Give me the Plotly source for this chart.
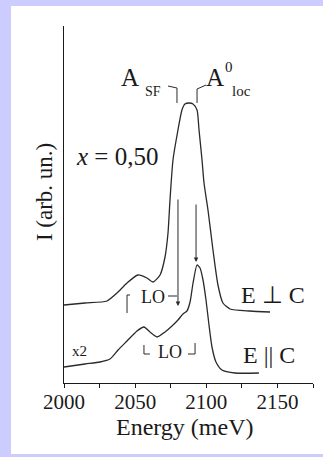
import plotly.graph_objects as go

# E ⊥ C spectrum (energy meV, intensity arb. units)
energy_perp = [2000.0, 2014.8, 2030.2, 2037.2, 2044.3, 2052.0, 2058.3, 2062.6, 2067.5, 2071.0,
               2073.1, 2074.5, 2076.6, 2080.1, 2082.9, 2085.0, 2087.9, 2090.7, 2093.5, 2094.9,
               2097.0, 2098.4, 2101.2, 2104.7, 2108.2, 2111.7, 2116.7, 2130.7, 2144.8]
int_perp = [78, 80, 82, 90, 100, 108, 105, 101, 108, 126,
            150, 183, 223, 253, 273, 279, 280, 279, 273, 253,
            223, 200, 173, 133, 98, 80, 74, 72, 71]

# E || C spectrum (x2)
energy_par = [2000.0, 2014.8, 2025.3, 2032.3, 2038.0, 2044.3, 2051.3, 2056.2, 2060.4, 2065.4,
              2071.0, 2075.9, 2080.1, 2083.6, 2086.4, 2088.6, 2090.7, 2093.5, 2095.6, 2097.7,
              2099.8, 2101.9, 2104.0, 2106.8, 2111.0, 2120.2, 2137.0]
int_par = [16, 19, 21, 24, 33, 42, 52, 56, 51, 46,
           51, 57, 63, 69, 72, 81, 100, 118, 115, 103,
           83, 58, 36, 21, 13, 10, 10]

x_major = [2000, 2050, 2100, 2150]
x_labels = ["2000", "2050", "2100", "2150"]

FONT = "Liberation Serif"
INK = "#1a1a1a"

fig = go.Figure()
fig.add_trace(go.Scatter(x=energy_perp, y=int_perp, mode="lines",
                         line=dict(color="#2a2a2a", width=1.3, shape="spline", smoothing=0.6),
                         showlegend=False, hoverinfo="skip"))
fig.add_trace(go.Scatter(x=energy_par, y=int_par, mode="lines",
                         line=dict(color="#2a2a2a", width=1.3, shape="spline", smoothing=0.6),
                         showlegend=False, hoverinfo="skip"))
# invisible trace to anchor the tick-mark axis
fig.add_trace(go.Scatter(x=[2000, 2175], y=[0, 0], mode="lines", xaxis="x2",
                         line=dict(width=0), showlegend=False, hoverinfo="skip"))

def txt(x, y, t, size, xanchor="center", yanchor="middle", xref="x", yref="y", angle=0):
    fig.add_annotation(x=x, y=y, xref=xref, yref=yref, text=t, showarrow=False,
                       font=dict(family=FONT, size=size, color=INK), textangle=angle,
                       xanchor=xanchor, yanchor=yanchor, borderpad=0)

txt(2007.7, 227, "<i>x</i> = 0,50", 25, xanchor="left")
txt(2046.4, 306, "A", 25)
txt(2062.5, 292, "SF", 14)
txt(2105.8, 306, "A", 25)
txt(2116.0, 316, "0", 15)
txt(2124.9, 292, "loc", 15)
txt(2062.2, 86, "LO", 18)
txt(2074.5, 31, "LO", 18)
txt(2147.2, 88, "E ⊥ C", 24)
txt(2144.1, 28, "E || C", 24)
txt(2011.2, 32, "x2", 15)

# arrows
for xa, ytail, yhead in [(2080.1, 185, 77), (2092.8, 180, 121)]:
    fig.add_annotation(x=xa, y=yhead, ax=xa, ay=ytail, xref="x", yref="y",
                       axref="x", ayref="y", text="", showarrow=True,
                       arrowhead=2, arrowsize=0.9, arrowwidth=1, arrowcolor="#2a2a2a")

# brackets
brackets = [
    "M 2073.1,297 L 2079.4,295 L 2079.4,280",
    "M 2093.5,280 L 2093.5,294 L 2099.8,298",
    "M 2044.3,70 L 2044.3,88 L 2046.4,88",
    "M 2073.1,87 L 2079.4,87",
    "M 2056.2,38 L 2056.2,29 L 2060.4,29",
    "M 2087.1,29 L 2092.1,29 L 2092.1,40",
]
for p in brackets:
    fig.add_shape(type="path", path=p, xref="x", yref="y",
                  line=dict(color="#2a2a2a", width=1))

# white panel on lavender background
fig.add_shape(type="rect", xref="paper", yref="paper",
              x0=-0.2129, x1=1.05, y0=-0.1989, y1=1.056,
              fillcolor="white", line=dict(width=0), layer="below")

# axis titles
txt(-0.08, 0.535, "I (arb. un.)", 23, xref="paper", yref="paper", angle=-90)
txt(0.486, -0.124, "Energy (meV)", 24, xref="paper", yref="paper")

fig.update_layout(
    width=323, height=457,
    margin=dict(l=64, r=10, t=26, b=74),
    paper_bgcolor="#CCCCFF",
    plot_bgcolor="white",
    xaxis=dict(range=[2000, 2175], showline=True, linecolor=INK, linewidth=1,
               tickvals=x_major, ticktext=x_labels, ticks="",
               tickfont=dict(family=FONT, size=21, color=INK),
               showgrid=False, zeroline=False),
    xaxis2=dict(range=[2000, 2175], overlaying="x", side="bottom", anchor="y",
                dtick=25, tick0=2000, ticks="outside", ticklen=4, tickcolor=INK,
                showticklabels=False, showline=False, showgrid=False, zeroline=False),
    yaxis=dict(range=[0, 357], showline=True, linecolor=INK, linewidth=1,
               showticklabels=False, ticks="", showgrid=False, zeroline=False),
)

fig.write_html("out.html")
